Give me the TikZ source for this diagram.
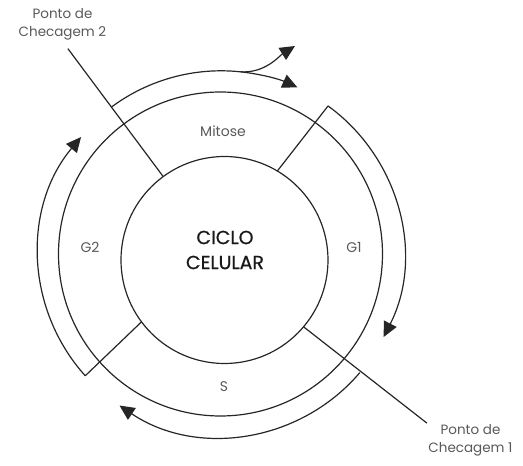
\documentclass[tikz,border=0pt]{standalone}
\usepackage{fontspec}
\setmainfont{Poppins}
\newfontfamily\cicfont[FakeBold=0.6]{Poppins}
\usetikzlibrary{arrows.meta}

\begin{document}
\begin{tikzpicture}[
    line width=1.2pt, draw=black!85,
    flow/.style={-{Triangle[length=15pt,width=14pt]}},
    phase/.style={text=black!65, font=\fontsize{14}{14}\selectfont},
    checkpt/.style={text=black!65, align=center, inner sep=1pt,
        font=\fontsize{13.5}{18}\selectfont},
]
    \useasboundingbox (-220.5pt, -212pt) rectangle (302.5pt, 254pt);
    \coordinate (ring) at (0, 0);
    \coordinate (core) at (4pt, -6pt);
    \draw (ring) circle (162pt);
    \draw (core) circle (103.5pt);

    \foreach \a/\b/\r [count=\i] in {59.3/54/183, 126.3/126.6/183, 216.7/222/182, 319.8/319.6/183} {
        \coordinate (in\i) at ([shift={(\a:103.5pt)}]core);
        \coordinate (out\i) at (\b:\r pt);
    }
    \draw (in1) -- (out1);
    \draw (in3) -- (out3);

    \node [phase] (mitose) at (2.5pt, 123pt) {Mitose};
    \node [phase] (gone) at (133.5pt, 7pt) {G1};
    \node [phase] (gtwo) at (-130.5pt, 7pt) {G2};
    \node [phase] (sphase) at (3.5pt, -133pt) {S};
    \node [align=center, text=black!90, font=\cicfont\fontsize{19}{25}\selectfont]
        (ciclo) at (4.5pt, 4pt) {CICLO\\CELULAR};

    \node [checkpt] (cpdois) at (-158pt, 230pt) {Ponto de\\Checagem 2};
    \node [checkpt] (cpum) at (250pt, -186.5pt) {Ponto de\\Checagem 1};
    \draw [shorten >=9pt] (in2) -- (cpdois.south);
    \draw (in4) -- (cpum.north west);

    % G1, S, G2
    \draw [flow] (out1) arc [start angle=54, end angle=-27, radius=183pt];
    \draw [flow] (out4) arc [start angle=319.6, end angle=236, radius=182pt];
    \draw [flow] (out3) arc [start angle=222, end angle=140, radius=182pt];

    % mitose
    \coordinate (mtop) at (74.5pt, 208pt);
    \draw (out2) arc [start angle=126.6, end angle=84, radius=184pt] coordinate (split);
    \draw [flow] (split) arc [start angle=84, end angle=65.5, radius=184pt];
    \draw [flow] (split) .. controls +(-4:25pt) and +(212:18pt) .. (mtop);
\end{tikzpicture}
\end{document}
